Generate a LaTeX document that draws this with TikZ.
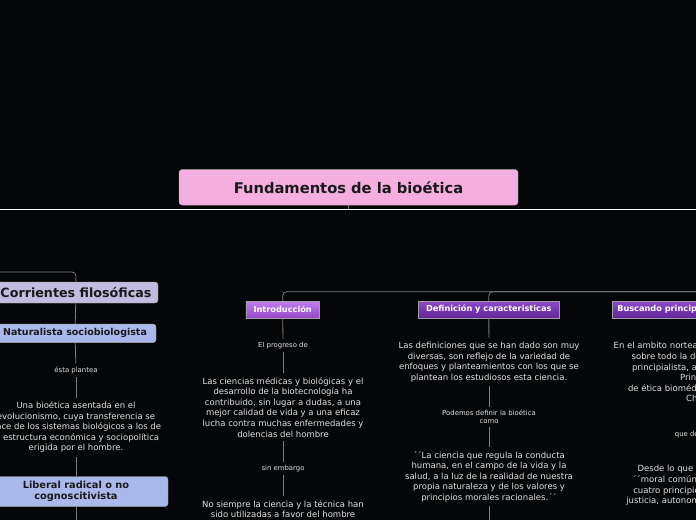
\documentclass[tikz,border=0pt]{standalone}
\usepackage{fontspec}
\setmainfont{DejaVu Sans}
\definecolor{fondo}{HTML}{050608}
\definecolor{rosa}{HTML}{F4AEE0}
\definecolor{lila}{HTML}{C3BCE0}
\definecolor{celeste}{HTML}{A9B9EC}
\definecolor{violetaA}{HTML}{C17DEF}
\definecolor{violetaB}{HTML}{9547C9}
\definecolor{moradoA}{HTML}{8B4BC7}
\definecolor{moradoB}{HTML}{64249A}
\definecolor{gris}{HTML}{7C7C7C}
\definecolor{texto}{HTML}{E2E2E2}

\tikzset{
  tema/.style={draw=gray!70, rounded corners=3pt, text=black!90, align=center},
  sub/.style={draw=gray!75, text=white, minimum height=17pt,
    font=\fontsize{8.2}{9}\selectfont\bfseries},
  parrafo/.style={text=texto, align=center, inner sep=4pt,
    font=\fontsize{8.5}{10.6}\selectfont},
  enlace/.style={text=texto, align=center, inner sep=3pt,
    font=\fontsize{6.9}{8}\selectfont},
  rama/.style={draw=gris, line width=0.8pt},
}

\begin{document}
\begin{tikzpicture}[x=1pt,y=-1pt]
    \useasboundingbox (0,0) rectangle (696,520);
    \fill[fondo] (0,0) rectangle (696,520);
    \clip (0,0) rectangle (696,520);

    \node[tema, fill=rosa, minimum width=339pt, minimum height=35.5pt,
        font=\fontsize{14.7}{16}\selectfont\bfseries] (raiz) at (348.5,187.3) {Fundamentos de la bioética};
    \coordinate (ejeI) at (0,209.3);
    \coordinate (ejeD) at (696,209.3);
    \coordinate (ejeC) at (348.5,209.3);
    \draw[white, line width=0.9pt] (ejeI) -- (ejeD);
    \draw[rama] (raiz) -- (ejeC);

    \coordinate (codoI) at (0,272);
    \node[tema, fill=lila, minimum width=164pt, minimum height=21pt,
        font=\fontsize{12.7}{14}\selectfont\bfseries] (corr) at (76,292.5) {Corrientes filosóficas};
    \node[tema, fill=celeste, minimum width=162pt, minimum height=18.5pt,
        font=\fontsize{9.5}{10}\selectfont\bfseries] (nat) at (75,333.3) {Naturalista sociobiologista};
    \node[enlace] (plantea) at (76,370) {ésta plantea};
    \node[parrafo] (p1) at (76,427.2) {Una bioética asentada en el\\evolucionismo, cuya transferencia se\\hace de los sistemas biológicos a los de\\la estructura económica y sociopolítica\\erigida por el hombre.};
    \node[tema, fill=celeste, minimum width=184pt, minimum height=30pt,
        font=\fontsize{9.8}{11.6}\selectfont\bfseries] (lib) at (76,491.5) {Liberal radical o no\\cognoscitivista};
    \coordinate (finI) at (76,520);

    \node[sub, top color=violetaA, bottom color=violetaB, minimum width=73.5pt] (intro) at (282.7,309.5) {Introducción};
    \node[enlace] (progreso) at (283,345.5) {El progreso de};
    \node[parrafo] (p2) at (283,407.3) {Las ciencias médicas y biológicas y el\\desarrollo de la biotecnología ha\\contribuido, sin lugar a dudas, a una\\mejor calidad de vida y a una eficaz\\lucha contra muchas enfermedades y\\dolencias del hombre};
    \node[enlace] (embargo) at (283,468.3) {sin embargo};
    \node[parrafo] (p3) at (283,509) {No siempre la ciencia y la técnica han\\sido utilizadas a favor del hombre};

    \node[sub, top color=moradoA, bottom color=moradoB, minimum width=141pt] (defi) at (488.8,309.5) {Definición y caracteristicas};
    \node[parrafo] (p4) at (489,362) {Las definiciones que se han dado son muy\\diversas, son reflejo de la variedad de\\enfoques y planteamientos con los que se\\plantean los estudiosos esta ciencia.};
    \node[enlace] (podemos) at (489,416.7) {Podemos definir la bioética\\como};
    \node[parrafo] (p5) at (489,476.7) {´´La ciencia que regula la conducta\\humana, en el campo de la vida y la\\salud, a la luz de la realidad de nuestra\\propia naturaleza y de los valores y\\principios morales racionales.´´};
    \coordinate (finD) at (489,520);

    \node[sub, top color=moradoA, bottom color=moradoB, minimum width=190pt] (busca) at (707,309.5) {Buscando principios éticos universales};
    \node[parrafo] (p6) at (707,372.3) {En el ambito norteamericano, ha destacado\\sobre todo la definición dada por la\\principialista, a partir de la obra de\\Principios de\\de ética biomédica, de Beauchamp y\\Childress.};
    \node[enlace] (define) at (707,434.3) {que define la ética};
    \node[parrafo] (p7) at (707,485.5) {Desde lo que ellos denominan la\\´´moral común´´ se establecen los\\cuatro principios: beneficencia, no\\justicia, autonomía y no maleficencia.};

    \coordinate (lineaM) at (707,291.7);
    \draw[rama, rounded corners=4pt] (codoI) -| (corr.north);
    \draw[rama, rounded corners=4pt] (intro.north) |- (lineaM) -- (busca.north);
    \draw[rama, rounded corners=4pt] (defi.north) |- (lineaM);
    \foreach \a/\b in {corr/nat, nat/plantea, plantea/p1, p1/lib, lib/finI,
        intro/progreso, progreso/p2, p2/embargo, embargo/p3,
        defi/p4, p4/podemos, podemos/p5, p5/finD,
        busca/p6, p6/define, define/p7}
        \draw[rama] (\a) -- (\b);
\end{tikzpicture}
\end{document}
